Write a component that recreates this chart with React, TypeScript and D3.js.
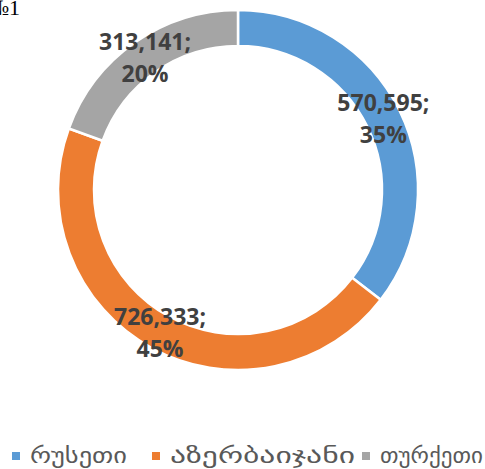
import * as d3 from "d3";

const countries = ["რუსეთი", "აზერბაიჯანი", "თურქეთი"];
const values = [570595, 726333, 313141];
const percents = [35, 45, 20];
const colors = ["#5b9bd5", "#ed7d31", "#a5a5a5"];

const W = 485, H = 469;
const cx = 238, cy = 190;
const rOuter = 180, rInner = 144;

export default function App() {
  const pie = d3.pie<number>().sort(null).value(d => d);
  const arcs = pie(values);
  const arc = d3.arc<d3.PieArcDatum<number>>().innerRadius(rInner).outerRadius(rOuter);
  const fmt = d3.format(",");
  // legend layout: square x, text width
  const legendX = [12, 152, 362];
  const legendW = [97, 185, 103];

  return (
    <svg width={W} height={H} style={{ position: "absolute", left: 0, top: 0 }}>
      <rect width={W} height={H} fill="#fff" />
      <text x={-12} y={15} fontFamily="Liberation Serif" fontSize={22} fill="#000">№1</text>
      <g transform={`translate(${cx},${cy})`}>
        {arcs.map((a, i) => (
          <path key={i} d={arc(a) || ""} fill={colors[i]} stroke="#fff" strokeWidth={2.5} />
        ))}
        {arcs.map((a, i) => {
          const [x, y] = arc.centroid(a);
          return (
            <text key={"l" + i} x={x} y={y} textAnchor="middle" fontFamily="Open Sans" fontWeight="bold"
              fontSize={23} fill="#404040">
              <tspan x={x} dy={-7}>{fmt(values[i])};</tspan>
              <tspan x={x} dy={32}>{percents[i]}%</tspan>
            </text>
          );
        })}
      </g>
      {countries.map((c, i) => (
        <g key={c} transform={`translate(${legendX[i]},456)`}>
          <rect x={0} y={-4} width={8} height={8} fill={colors[i]} />
          <text x={18} y={7} fontFamily="DejaVu Sans" fontSize={22} fill="#595959"
            textLength={legendW[i]} lengthAdjust="spacingAndGlyphs">{c}</text>
        </g>
      ))}
    </svg>
  );
}
